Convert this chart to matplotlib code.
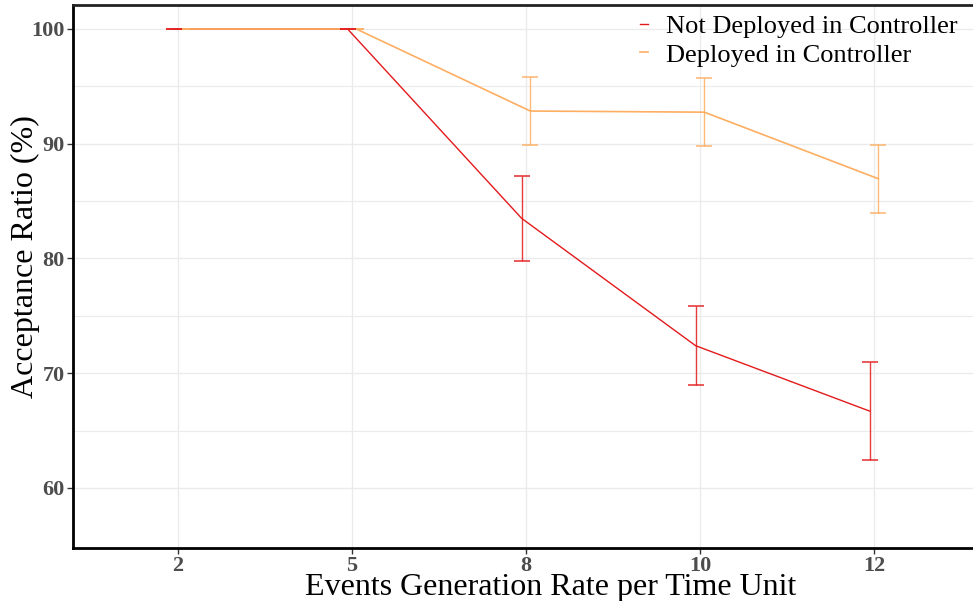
import matplotlib
matplotlib.use("Agg")
import matplotlib.pyplot as plt
import numpy as np
from matplotlib.ticker import FixedLocator

# Event generation rates (categorical x positions)
rates = ["2", "5", "8", "10", "12"]

# Acceptance ratio (%) means and error half-widths
not_deployed_mean = [100.0, 100.0, 83.5, 72.4, 66.7]
not_deployed_err = [0.0, 0.0, 3.7, 3.45, 4.25]
deployed_mean = [100.0, 100.0, 92.85, 92.75, 86.95]
deployed_err = [0.0, 0.0, 2.95, 2.95, 2.98]

series_labels = ["Not Deployed in Controller", "Deployed in Controller"]
red = "#E31A1C"
orange = "#FDAE61"

plt.rcParams["font.family"] = ["Liberation Serif", "DejaVu Serif"]

fig = plt.figure(figsize=(9.73, 6.01), dpi=100)
ax = fig.add_axes([73 / 973, 1 - 548 / 601, 1 - 73 / 973, (548 - 5) / 601])

x = np.arange(1, len(rates) + 1)
dodge = 0.025

# grid
ax.set_axisbelow(True)
ax.yaxis.set_major_locator(FixedLocator([60, 70, 80, 90, 100]))
ax.yaxis.set_minor_locator(FixedLocator([65, 75, 85, 95]))
ax.grid(which="major", color="#EBEBEB", linewidth=1.0)
ax.grid(which="minor", axis="y", color="#EBEBEB", linewidth=0.8)

# lines
ax.plot(x - dodge, not_deployed_mean, color=red, linewidth=1.0, zorder=3,
        label=series_labels[0])
ax.plot(x + dodge, deployed_mean, color=orange, linewidth=1.2, zorder=3,
        label=series_labels[1])

# error bars
ax.errorbar(x + dodge, deployed_mean, yerr=deployed_err, fmt="none",
            ecolor=orange, elinewidth=1.0, capsize=6.1, capthick=1.2,
            alpha=0.85, zorder=4)
ax.errorbar(x - dodge, not_deployed_mean, yerr=not_deployed_err, fmt="none",
            ecolor=red, elinewidth=1.0, capsize=6.1, capthick=1.2,
            alpha=0.85, zorder=5)

ax.set_xlim(0.397, 5.569)
ax.set_ylim(54.77, 102.09)
ax.set_xticks(x)
ax.set_xticklabels(rates)

for lab in ax.get_xticklabels() + ax.get_yticklabels():
    lab.set_fontweight("bold")
    lab.set_color("#4D4D4D")
    lab.set_fontsize(16)
ax.tick_params(axis="both", which="major", length=4, width=1, color="#333333",
               pad=2)
ax.tick_params(axis="y", which="minor", length=0)

for side in ["left", "bottom"]:
    ax.spines[side].set_linewidth(2.0)
    ax.spines[side].set_color("black")
ax.spines["top"].set_linewidth(2.0)
ax.spines["top"].set_color("#222222")
ax.spines["right"].set_visible(False)

ax.set_xlabel("Events Generation Rate per Time Unit", fontsize=23)
ax.xaxis.set_label_coords((551 - 73) / 900, (548 - 587) / 543)
ax.xaxis.label.set_verticalalignment("center")
ax.set_ylabel("Acceptance Ratio (%)", fontsize=23)
ax.yaxis.set_label_coords((25 - 73) / 900, (548 - 257) / 543)
ax.yaxis.label.set_verticalalignment("center")

leg = ax.legend(loc="upper right", bbox_to_anchor=(1.0, 1.012), frameon=False,
                fontsize=19, handlelength=0.3, handletextpad=0.65,
                labelspacing=0.2, borderaxespad=0.2)

fig.savefig("out.png", dpi=100)
